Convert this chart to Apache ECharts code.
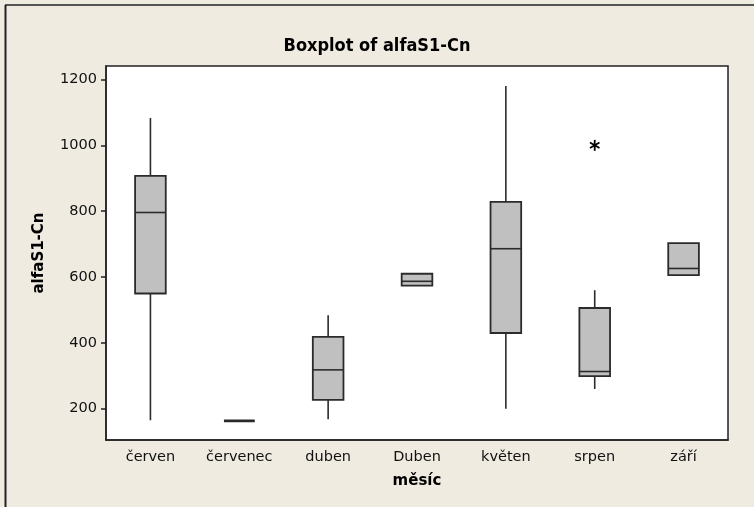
<!DOCTYPE html>
<html>
<head>
<meta charset="utf-8">
<script src="https://cdn.jsdelivr.net/npm/echarts@6/dist/echarts.min.js"></script>
<style>
html,body{margin:0;padding:0;background:#EFEBE1;}
#chart{width:754px;height:507px;}
</style>
</head>
<body>
<div id="chart"></div>
<script>
// ---- data ----
const categories = ['červen', 'červenec', 'duben', 'Duben', 'květen', 'srpen', 'září'];
const lowWhisker  = [165, 163, 168, 574, 200, 260, 606];
const q1Values    = [550, 163, 227, 574, 430, 299, 606];
const medianVals  = [796, 163, 318, 587, 686, 313, 626];
const q3Values    = [907, 163, 418, 610, 828, 506, 703];
const highWhisker = [1083, 163, 484, 610, 1180, 560, 703];
const outlierCats = [5];
const outlierVals = [1000];
const yTicks = [200, 400, 600, 800, 1000, 1200];

const boxData = categories.map((c, i) => [i, lowWhisker[i], q1Values[i], medianVals[i], q3Values[i], highWhisker[i]]);
const outlierData = outlierCats.map((c, i) => [c, outlierVals[i]]);

const FONT = 'DejaVu Sans';
const chart = echarts.init(document.getElementById('chart'), null, {renderer: 'canvas'});

function renderBox(params, api) {
  const idx = api.value(0);
  const lo = api.coord([idx, api.value(1)]);
  const q1 = api.coord([idx, api.value(2)]);
  const md = api.coord([idx, api.value(3)]);
  const q3 = api.coord([idx, api.value(4)]);
  const hi = api.coord([idx, api.value(5)]);
  const bw = api.size([1, 0])[0] * 0.345;
  const x = lo[0];
  const stroke = {stroke: '#2b2b2b', lineWidth: 1.6, fill: null};
  const degenerate = Math.abs(q1[1] - q3[1]) < 1;
  return {
    type: 'group',
    children: [
      {type: 'line', shape: {x1: x, y1: hi[1], x2: x, y2: q3[1]}, style: stroke},
      {type: 'line', shape: {x1: x, y1: q1[1], x2: x, y2: lo[1]}, style: stroke},
      {type: 'rect', shape: {x: x - bw / 2, y: q3[1], width: bw, height: q1[1] - q3[1]},
        style: {fill: '#C0C0C0', stroke: '#2b2b2b', lineWidth: degenerate ? 2.6 : 1.8}},
      {type: 'line', shape: {x1: x - bw / 2, y1: md[1], x2: x + bw / 2, y2: md[1]}, style: {stroke: '#2b2b2b', lineWidth: 1.6}}
    ]
  };
}

function renderOutlier(params, api) {
  const p = api.coord([api.value(0), api.value(1)]);
  const r = 5.5;
  const children = [];
  for (let k = 0; k < 3; k++) {
    const a = Math.PI / 2 + k * Math.PI / 3;
    children.push({type: 'line', shape: {x1: p[0] - r * Math.cos(a), y1: p[1] - r * Math.sin(a), x2: p[0] + r * Math.cos(a), y2: p[1] + r * Math.sin(a)},
      style: {stroke: '#000', lineWidth: 1.8}});
  }
  return {type: 'group', children};
}

chart.setOption({
  backgroundColor: '#EFEBE1',
  animation: false,
  title: {
    text: 'Boxplot of alfaS1-Cn',
    left: 'center',
    top: 32,
    textStyle: {fontFamily: 'DejaVu Sans Condensed', fontWeight: 'bold', fontSize: 18, color: '#000'}
  },
  graphic: [
    {type: 'line', shape: {x1: 5, y1: 5, x2: 754, y2: 5}, style: {stroke: '#555', lineWidth: 2}},
    {type: 'line', shape: {x1: 5.5, y1: 5, x2: 5.5, y2: 507}, style: {stroke: '#222', lineWidth: 2}}
  ],
  grid: {left: 106, top: 66, right: 26, bottom: 67, show: true, backgroundColor: '#fff', borderColor: '#222', borderWidth: 1.5},
  xAxis: {
    type: 'category',
    data: categories,
    name: 'měsíc',
    nameLocation: 'middle',
    nameGap: 34,
    nameTextStyle: {fontFamily: FONT, fontWeight: 'bold', fontSize: 15, color: '#000'},
    axisLine: {lineStyle: {color: '#222', width: 1.5}},
    axisTick: {alignWithLabel: true, length: 5, lineStyle: {color: '#222', width: 1.5}},
    axisLabel: {fontFamily: FONT, fontSize: 14.5, color: '#111', margin: 10},
    splitLine: {show: false}
  },
  yAxis: {
    type: 'value',
    min: 105,
    max: 1241,
    name: 'alfaS1-Cn',
    nameLocation: 'middle',
    nameGap: 59,
    nameTextStyle: {fontFamily: FONT, fontWeight: 'bold', fontSize: 15, color: '#000'},
    axisLine: {show: true, lineStyle: {color: '#222', width: 1.5}},
    axisTick: {show: true, length: 5, customValues: yTicks, lineStyle: {color: '#222', width: 1.5}},
    axisLabel: {fontFamily: FONT, fontSize: 14.5, color: '#111', margin: 9, customValues: yTicks, formatter: v => String(v)},
    splitLine: {show: false}
  },
  series: [
    {type: 'custom', renderItem: renderBox, data: boxData, encode: {x: 0, y: [1, 2, 3, 4, 5]}, z: 3},
    {type: 'custom', renderItem: renderOutlier, data: outlierData, encode: {x: 0, y: 1}, z: 4}
  ]
});
</script>
</body>
</html>
